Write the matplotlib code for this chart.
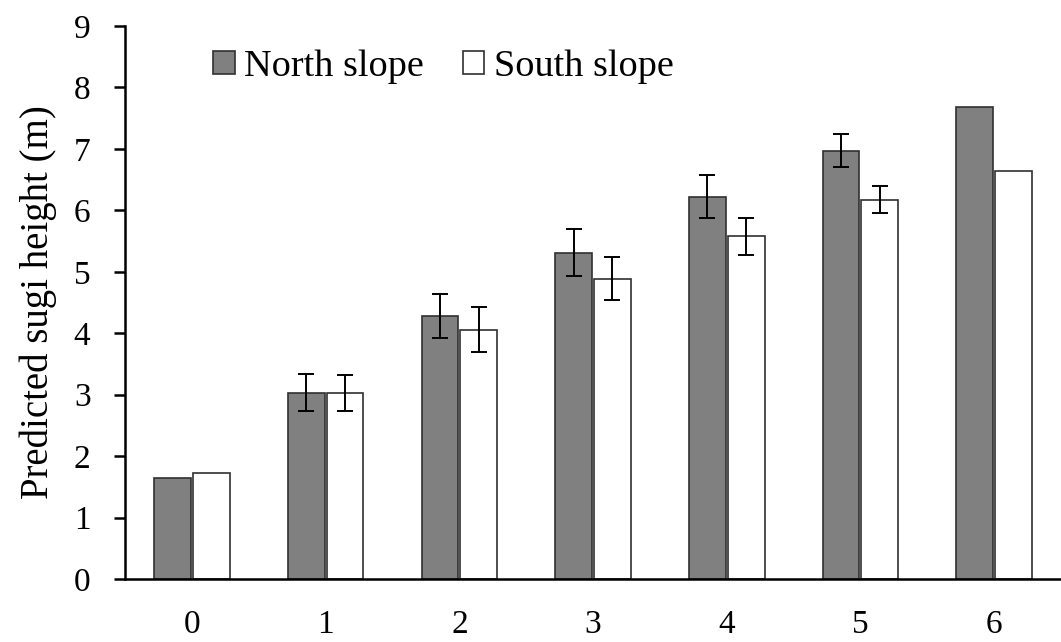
import numpy as np
import matplotlib
matplotlib.use("Agg")
from matplotlib import pyplot as plt

# years after treatment and predicted heights per slope
years = [0, 1, 2, 3, 4, 5, 6]
north = [1.64, 3.03, 4.28, 5.31, 6.22, 6.97, 7.68]
south = [1.73, 3.03, 4.06, 4.89, 5.58, 6.17, 6.64]
north_err = [0, 0.30, 0.36, 0.38, 0.35, 0.27, 0]
south_err = [0, 0.29, 0.36, 0.35, 0.30, 0.22, 0]

plt.rcParams['font.family'] = ['Liberation Serif', 'DejaVu Serif']

fig = plt.figure(figsize=(10.61, 6.42), dpi=100)
ax = fig.add_axes([0.118, 0.098, 0.882, 0.8615])

x = np.arange(len(years))
w = 0.275
off = 0.145

def errs(e):
    return [v if v > 0 else np.nan for v in e]

ax.bar(x - off, north, w, color="#808080", edgecolor="#303030", linewidth=1.2,
       label="North slope", zorder=2)
ax.bar(x + off, south, w, color="white", edgecolor="#303030", linewidth=1.2,
       label="South slope", zorder=2)
ax.errorbar(x - off, north, yerr=errs(north_err), fmt="none", ecolor="black",
            elinewidth=1.4, capsize=6, capthick=1.4, zorder=3)
ax.errorbar(x + off, south, yerr=errs(south_err), fmt="none", ecolor="black",
            elinewidth=1.4, capsize=6, capthick=1.4, zorder=3)

ax.set_xlim(-0.5, len(years) - 0.5)
ax.set_ylim(0, 9)
ax.set_yticks(range(0, 10))
ax.set_xticks(x)
ax.set_xticklabels([str(y) for y in years])

for s in ["top", "right"]:
    ax.spines[s].set_visible(False)
ax.spines["left"].set_linewidth(1.8)
ax.spines["bottom"].set_linewidth(1.8)
ax.tick_params(axis="y", direction="out", length=8, width=1.8, labelsize=24, pad=17)
ax.tick_params(axis="x", length=0, labelsize=24, pad=22)

ax.set_ylabel("Predicted sugi height (m)", fontsize=28, labelpad=12)

ax.legend(loc="upper left", bbox_to_anchor=(0.094, 0.957), ncol=2, frameon=False,
          fontsize=27.5, handlelength=0.56, handleheight=0.56, handletextpad=0.26,
          columnspacing=1.0, borderaxespad=0, borderpad=0)

fig.savefig("out.png", dpi=100)
